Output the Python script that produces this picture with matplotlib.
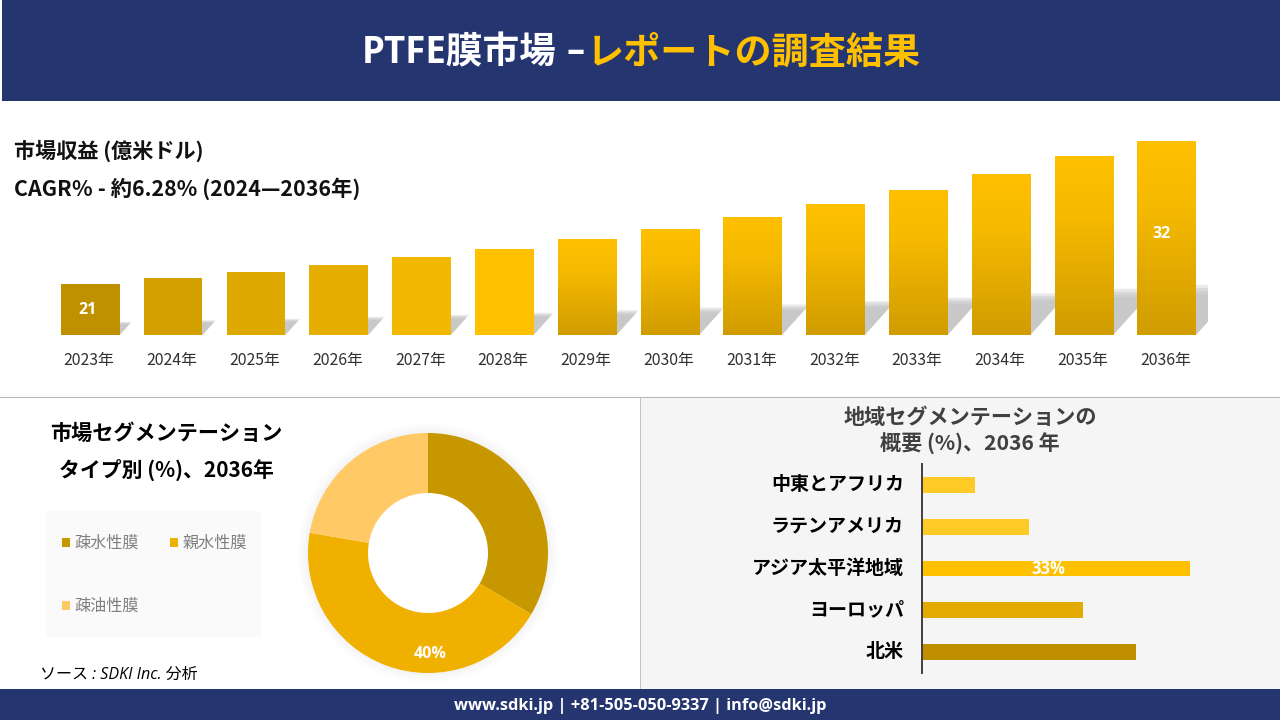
import matplotlib
matplotlib.use('Agg')
import matplotlib.pyplot as plt
import numpy as np
from matplotlib.colors import LinearSegmentedColormap
from matplotlib.patches import Rectangle, Polygon, Circle
from matplotlib.transforms import ScaledTranslation

W, H = 1280, 720
JP = ['Noto Sans CJK JP', 'DejaVu Sans']
LAT = ['Open Sans', 'Noto Sans CJK JP', 'DejaVu Sans']
plt.rcParams['font.family'] = JP

years = ['2023年','2024年','2025年','2026年','2027年','2028年','2029年','2030年','2031年','2032年','2033年','2034年','2035年','2036年']
revenue = [21, 21.46, 21.9, 22.46, 23.08, 23.7, 24.46, 25.23, 26.15, 27.15, 28.23, 29.46, 30.85, 32]
revenue_labels = {0: '21', 13: '32'}
flat_colors = ['#BF9000','#D4A000','#DEA900','#E5AE00','#F2B800','#FFC000']

types = ['疎水性膜','親水性膜','疎油性膜']
type_share = [33.5, 44.2, 22.3]
type_colors = ['#C79700','#F0B000','#FFC966']
regions = ['北米','ヨーロッパ','アジア太平洋地域','ラテンアメリカ','中東とアフリカ']
region_share = [26.4, 19.8, 33, 13.2, 6.5]
region_colors = ['#BF8F00','#E3AB00','#FFC000','#FFC926','#FFC926']

NAVY = '#253570'
fig = plt.figure(figsize=(12.8, 7.2), dpi=100, facecolor='white')

def box(x0, y0, x1, y1):
    return [x0/W, 1-y1/H, (x1-x0)/W, (y1-y0)/H]

def T(x, y, s, **kw):
    kw.setdefault('va', 'center')
    return fig.text(x/W, 1-y/H, s, **kw)

def R(x0, y0, x1, y1, c, z=0):
    fig.add_artist(Rectangle((x0/W, 1-y1/H), (x1-x0)/W, (y1-y0)/H, transform=fig.transFigure,
                             fc=c, ec='none', zorder=z))

# panels and bands
R(2, 0, 1280, 100.5, NAVY)
R(0, 689, 1280, 720, NAVY)
R(640, 398, 1280, 689, '#F5F5F5')
R(0, 397, 1280, 398.2, '#B5B5B5')
R(640, 398, 641, 689, '#C4C4C4')
R(46, 511, 261, 637, '#FAFAFA')

T(362, 53, 'PTFE膜市場', color='white', fontsize=26.4, fontweight='bold', family=LAT)
T(567, 53, '–', color='white', fontsize=26, fontweight='bold', family=LAT)
T(587, 53, 'レポートの調査結果', color='#FFC000', fontsize=26.7, fontweight='bold')
T(640, 706, 'www.sdki.jp | +81-505-050-9337 | info@sdki.jp', color='white', fontsize=11.8,
  fontweight='bold', ha='center', family=LAT)

# revenue bars
ax = fig.add_axes(box(49, 120, 1208, 335))
base = 17.08
ax.patch.set_alpha(0)
for s in ax.spines.values():
    s.set_visible(False)
x = np.arange(len(years))
bw = 58.5/82.77
grad = LinearSegmentedColormap.from_list('g', [(0, '#D09C00'), (0.65, '#F5B900'), (1, '#FFC000')])
g_img = np.linspace(0, 1, 256)[:, None]
bars = ax.bar(x, np.array(revenue)-base, bw, bottom=base, color=flat_colors + ['none']*8, zorder=3)
pxx = 82.77
for i, (xi, v) in enumerate(zip(x, revenue)):
    for f in (1.1, 1.03, 0.97, 0.9):
        s = (v-base)*0.235*f
        dx = s*13*0.9/pxx
        ax.add_patch(Polygon([(xi-bw/2, base), (xi+bw/2, base), (xi+bw/2+dx, base+s), (xi-bw/2+dx, base+s)],
                             fc='#B8B8B8', ec='none', alpha=0.3, zorder=1))
    if i >= 6:
        im = ax.imshow(g_img, origin='lower', cmap=grad, aspect='auto', zorder=3,
                       extent=(xi-bw/2, xi+bw/2, base, v), vmin=0, vmax=1)
        im.set_clip_path(bars[i])
ax.set_xlim(-0.5, 13.5)
ax.set_ylim(base, base + 215/13)
ax.set_yticks([])
ax.set_xticks(x, years)
ax.tick_params(axis='x', length=0, pad=12, labelsize=11.4, labelcolor='#303030')
left = ScaledTranslation(-1.2/100, 0, fig.dpi_scale_trans)
for t in ax.get_xticklabels():
    t.set_transform(t.get_transform() + left)
for i, lab in revenue_labels.items():
    yy = base + (revenue[i]-base)*(0.49 if i == 0 else 0.52)
    ax.text(i-0.03 if i == 0 else i-0.065, yy, lab, color='white', fontsize=11.5, fontweight='bold', ha='center', va='center',
            zorder=5, family=LAT)

T(14, 151, '市場収益 (億米ドル)', fontsize=15.2, fontweight='bold', color='#111111')
T(14, 189, 'CAGR％ - 約6.28% (2024—2036年)', fontsize=15.4, fontweight='bold', color='#111111')

# donut
T(166, 433, '市場セグメンテーション', fontsize=15.2, fontweight='bold', ha='center', color='black')
T(166, 470, 'タイプ別 (%)、2036年', fontsize=15, fontweight='bold', ha='center', color='black')
ax2 = fig.add_axes(box(298, 423, 558, 683))
wedges, _ = ax2.pie(type_share, colors=type_colors, startangle=90, counterclock=False, radius=1,
                    wedgeprops=dict(width=0.5, linewidth=0, zorder=3))
for r in (1.08, 1.055, 1.03, 1.01):
    ax2.add_patch(Circle((0, 0), r, fc='#808080', ec='none', alpha=0.025, zorder=1))
ax2.add_patch(Circle((0, 0), 0.505, fc='white', ec='none', zorder=2))
ax2.set_xlim(-130/120, 130/120)
ax2.set_ylim(-130/120, 130/120)
ax2.text(0.02, -0.84, '40%', color='white', fontsize=11.5, fontweight='bold', ha='center', va='center',
         family=LAT, zorder=5)

fig.legend([wedges[0], wedges[2], wedges[1]], [types[0], types[2], types[1]], ncol=2,
           loc='upper left', bbox_to_anchor=(62/W, 1-535/H), frameon=False, fontsize=11.6,
           labelcolor='#7F7F7F', handlelength=0.5, handleheight=0.5, handletextpad=0.26,
           columnspacing=1.95, labelspacing=2.87, borderpad=0, borderaxespad=0)

T(40, 675, 'ソース : SDKI Inc. 分析', fontsize=11.5, style='italic', color='black', family=LAT)

# region bars
T(970, 417, '地域セグメンテーションの', fontsize=15.2, fontweight='bold', ha='center', color='#404040')
T(970, 444, '概要 (%)、2036 年', fontsize=15.2, fontweight='bold', ha='center', color='#404040')
ax3 = fig.add_axes(box(922, 464, 1240, 673))
ax3.patch.set_alpha(0)
ax3.barh(regions, region_share, height=16/42, color=region_colors, zorder=2)
ax3.set_xlim(0, 318/8.12)
ax3.set_ylim(-(673-652)/42, 4+(485-464)/42)
for n in ['top', 'right', 'bottom']:
    ax3.spines[n].set_visible(False)
ax3.spines['left'].set_color('#404040')
ax3.spines['left'].set_linewidth(1.4)
ax3.set_xticks([])
ax3.tick_params(axis='y', length=0, pad=13, labelsize=13.7, labelcolor='black')
lift = ScaledTranslation(0, 2.5/100, fig.dpi_scale_trans)
for t in ax3.get_yticklabels():
    t.set_fontweight('bold')
    t.set_transform(t.get_transform() + lift)
ax3.text(15.5, 1.98, '33%', color='white', fontsize=12, fontweight='bold', ha='center', va='center', family=LAT)

fig.savefig('out.png', dpi=100, facecolor='white')
